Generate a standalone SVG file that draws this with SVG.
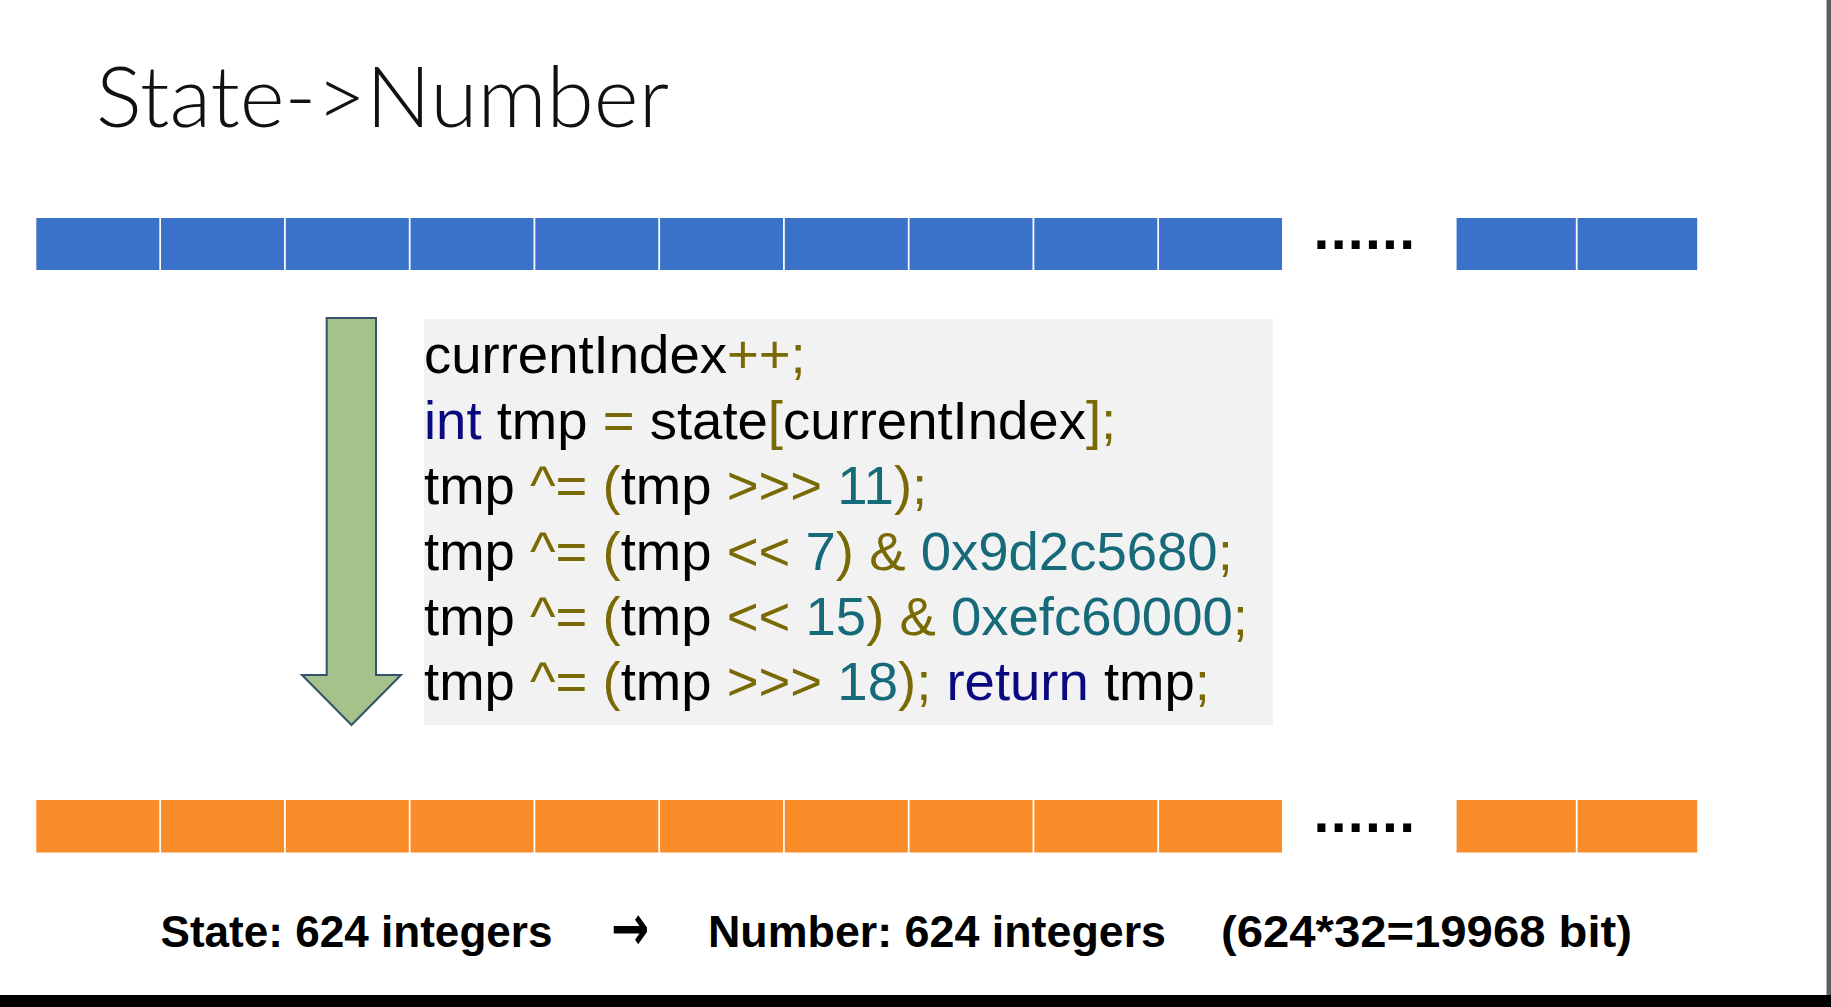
<svg xmlns="http://www.w3.org/2000/svg" width="1831" height="1007" viewBox="0 0 1831 1007">
<style>
.bg{fill:#ffffff}
.blue{fill:#3B72C9}
.orange{fill:#FA8C2A}
.title{font-family:"Lato","Noto Sans","Liberation Sans",sans-serif;font-weight:300;font-size:84px;fill:#111}
.code{font-family:"Liberation Sans",Arial,sans-serif;font-size:54.5px;fill:#000}
.op{fill:#7A6A05}
.num{fill:#176A7A}
.kw{fill:#0A0A80}
.dots{font-family:"Liberation Sans",Arial,sans-serif;font-weight:bold;font-size:57px;fill:#000;letter-spacing:1.3px}
.foot{font-family:"Liberation Sans",Arial,sans-serif;font-weight:bold;font-size:45px;fill:#000}
.arr{font-family:"DejaVu Sans",sans-serif;font-weight:bold;font-size:64px;fill:#000}
</style>
<rect class="bg" x="0" y="0" width="1831" height="1007"/>
<text id="title" class="title" x="96" y="127" textLength="573" lengthAdjust="spacingAndGlyphs">State-&gt;Number</text>

<g id="state-bar">
<rect class="blue" x="36.3" y="218" width="123" height="52"/>
<rect class="blue" x="161.05" y="218" width="123" height="52"/>
<rect class="blue" x="285.8" y="218" width="123" height="52"/>
<rect class="blue" x="410.55" y="218" width="123" height="52"/>
<rect class="blue" x="535.3" y="218" width="123" height="52"/>
<rect class="blue" x="660.05" y="218" width="123" height="52"/>
<rect class="blue" x="784.8" y="218" width="123" height="52"/>
<rect class="blue" x="909.55" y="218" width="123" height="52"/>
<rect class="blue" x="1034.3" y="218" width="123" height="52"/>
<rect class="blue" x="1159.05" y="218" width="123" height="52"/>
<text class="dots" x="1313.5" y="248.5">......</text>
<rect class="blue" x="1456.6" y="218" width="119.2" height="52"/>
<rect class="blue" x="1577.6" y="218" width="119.6" height="52"/>
</g>

<g id="arrow">
<path d="M326.7 318 L376 318 L376 675 L401 675 L351.5 725 L302 675 L326.7 675 Z" fill="#A5C18C" stroke="#34526B" stroke-width="2" stroke-linejoin="miter"/>
</g>

<g id="code">
<rect x="424" y="319" width="849" height="406" fill="#F2F2F2"/>
<text class="code" x="424" y="373">currentIndex<tspan class="op">++;</tspan></text>
<text class="code" x="424" y="438.5"><tspan class="kw">int</tspan> tmp <tspan class="op">=</tspan> state<tspan class="op">[</tspan>currentIndex<tspan class="op">];</tspan></text>
<text class="code" x="424" y="504">tmp <tspan class="op">^=</tspan> <tspan class="op">(</tspan>tmp <tspan class="op">&gt;&gt;&gt;</tspan> <tspan class="num">11</tspan><tspan class="op">);</tspan></text>
<text class="code" x="424" y="569.5">tmp <tspan class="op">^=</tspan> <tspan class="op">(</tspan>tmp <tspan class="op">&lt;&lt;</tspan> <tspan class="num">7</tspan><tspan class="op">)</tspan> <tspan class="op">&amp;</tspan> <tspan class="num">0x9d2c5680</tspan><tspan class="op">;</tspan></text>
<text class="code" x="424" y="635">tmp <tspan class="op">^=</tspan> <tspan class="op">(</tspan>tmp <tspan class="op">&lt;&lt;</tspan> <tspan class="num">15</tspan><tspan class="op">)</tspan> <tspan class="op">&amp;</tspan> <tspan class="num">0xefc60000</tspan><tspan class="op">;</tspan></text>
<text class="code" x="424" y="700">tmp <tspan class="op">^=</tspan> <tspan class="op">(</tspan>tmp <tspan class="op">&gt;&gt;&gt;</tspan> <tspan class="num">18</tspan><tspan class="op">);</tspan> <tspan class="kw">return</tspan> tmp<tspan class="op">;</tspan></text>
</g>

<g id="number-bar">
<rect class="orange" x="36.3" y="800" width="123" height="52.5"/>
<rect class="orange" x="161.05" y="800" width="123" height="52.5"/>
<rect class="orange" x="285.8" y="800" width="123" height="52.5"/>
<rect class="orange" x="410.55" y="800" width="123" height="52.5"/>
<rect class="orange" x="535.3" y="800" width="123" height="52.5"/>
<rect class="orange" x="660.05" y="800" width="123" height="52.5"/>
<rect class="orange" x="784.8" y="800" width="123" height="52.5"/>
<rect class="orange" x="909.55" y="800" width="123" height="52.5"/>
<rect class="orange" x="1034.3" y="800" width="123" height="52.5"/>
<rect class="orange" x="1159.05" y="800" width="123" height="52.5"/>
<text class="dots" x="1313.5" y="832">......</text>
<rect class="orange" x="1456.6" y="800" width="119.2" height="52.5"/>
<rect class="orange" x="1577.6" y="800" width="119.6" height="52.5"/>
</g>

<g id="footer">
<text class="foot" x="160.5" y="947" textLength="392" lengthAdjust="spacingAndGlyphs">State: 624 integers</text>
<text class="arr" x="611" y="950" textLength="38" lengthAdjust="spacingAndGlyphs">→</text>
<text class="foot" x="708" y="947" textLength="458" lengthAdjust="spacingAndGlyphs">Number: 624 integers</text>
<text class="foot" x="1221" y="947" textLength="411" lengthAdjust="spacingAndGlyphs">(624*32=19968 bit)</text>
</g>

<rect x="1826.5" y="0" width="4.5" height="995" fill="#5E5E5E"/>
<rect x="0" y="995" width="1831" height="12" fill="#000"/>
</svg>
